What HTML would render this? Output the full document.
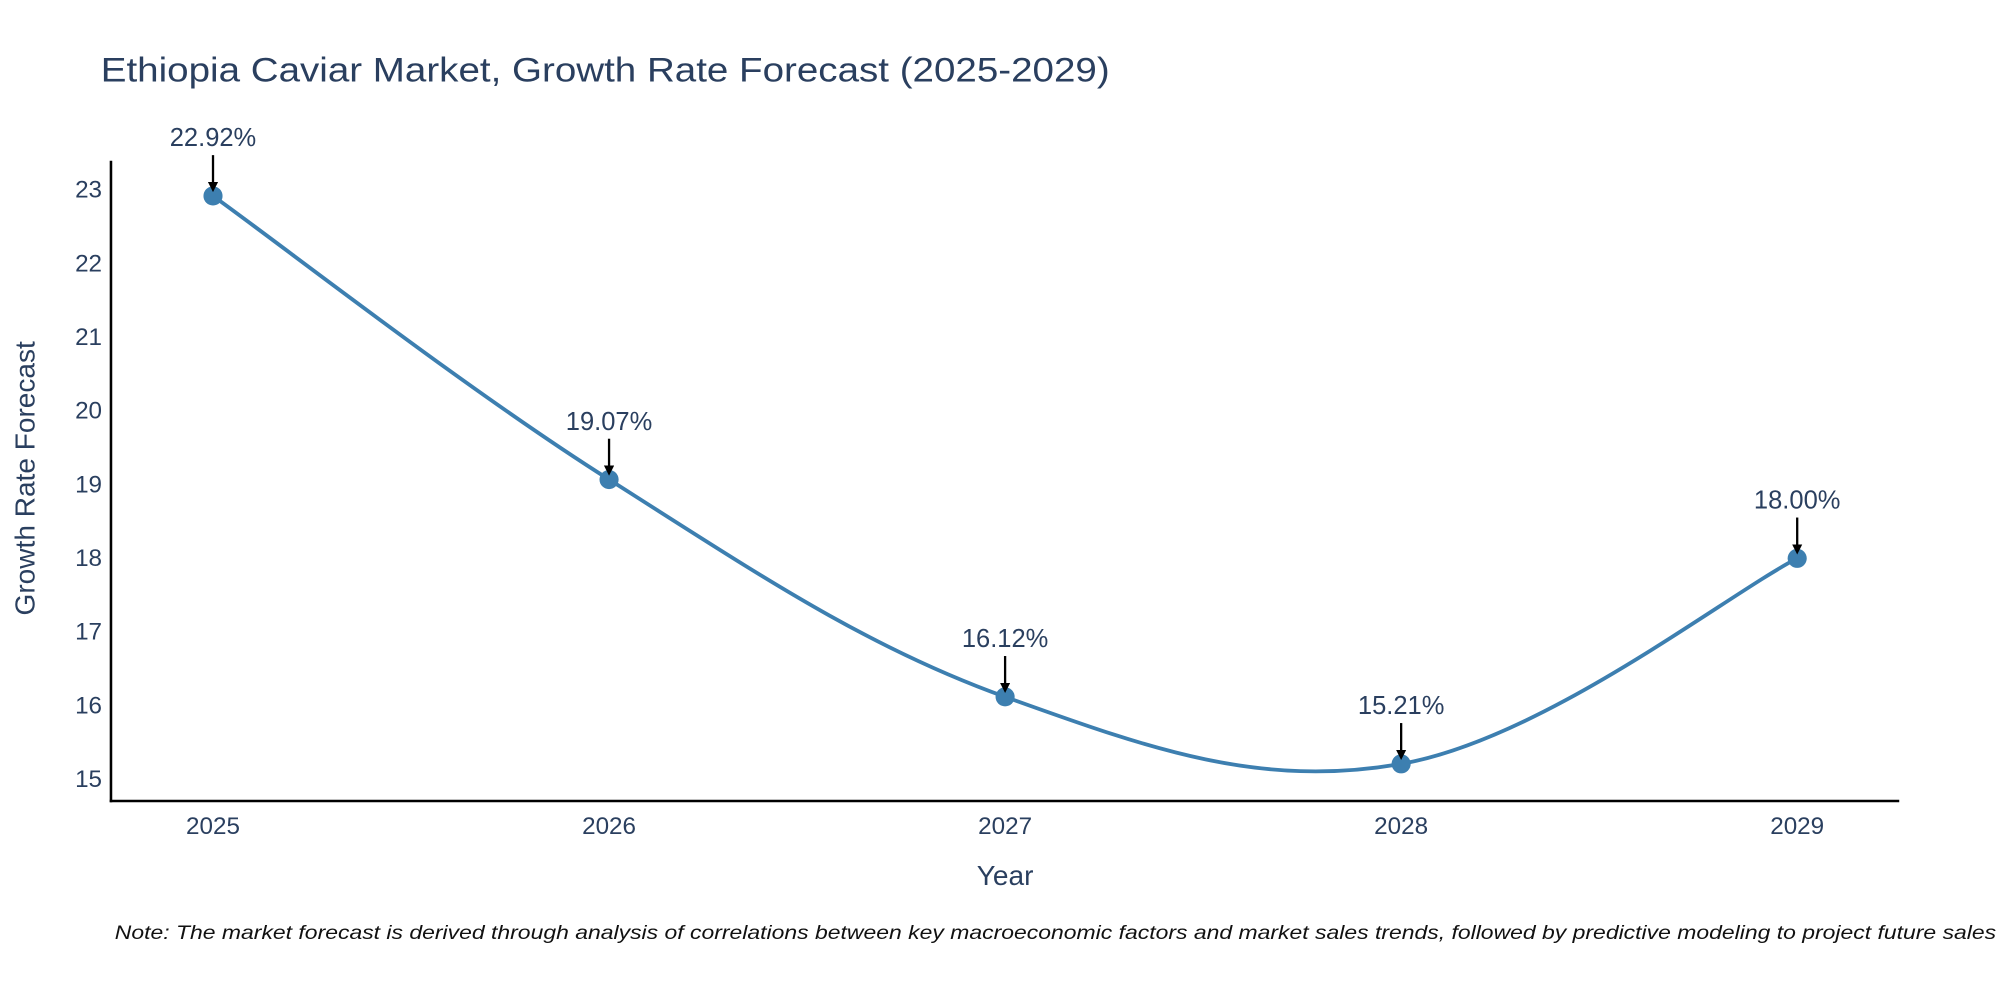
<!DOCTYPE html>
<html><head><meta charset="utf-8"><style>
html,body{margin:0;padding:0;background:#fff;}
svg{display:block;}
text{font-family:"Liberation Sans","DejaVu Sans",sans-serif;fill:#2a3f5f;}
</style></head><body>
<svg id="chart" width="2000" height="1000" viewBox="0 0 1568 784" preserveAspectRatio="none" xmlns="http://www.w3.org/2000/svg">
<rect width="1568" height="784" fill="#fff"/>
<text x="79" y="64" font-size="27" textLength="791" lengthAdjust="spacingAndGlyphs">Ethiopia Caviar Market, Growth Rate Forecast (2025-2029)</text>
<g id="yticks"></g>
<g id="xticks"></g>
<line x1="87" y1="126" x2="87" y2="629" stroke="#000" stroke-width="2"/>
<line x1="86" y1="628" x2="1489" y2="628" stroke="#000" stroke-width="2"/>
<text transform="translate(27,375) rotate(-90)" text-anchor="middle" font-size="22">Growth Rate Forecast</text>
<text x="788" y="694" text-anchor="middle" font-size="22">Year</text>
<g id="series"></g>
<g id="annots"></g>
<text x="90" y="736" font-size="15" font-style="italic" fill="#111" style="fill:#111" textLength="1475" lengthAdjust="spacingAndGlyphs">Note: The market forecast is derived through analysis of correlations between key macroeconomic factors and market sales trends, followed by predictive modeling to project future sales</text>
<defs><marker id="ah" markerWidth="8" markerHeight="8" refX="6" refY="4" orient="auto" markerUnits="userSpaceOnUse" viewBox="0 0 8 8"><path d="M0,0 L8,4 L0,8 z" fill="#000"/></marker></defs>
</svg>
<script>
const years = [2025, 2026, 2027, 2028, 2029];
const values = [22.92, 19.07, 16.12, 15.21, 18.00];
const labels = ["22.92%", "19.07%", "16.12%", "15.21%", "18.00%"];
const yTicks = [15, 16, 17, 18, 19, 20, 21, 22, 23];

const NS = "http://www.w3.org/2000/svg";
function xs(v){ return 167 + (v - 2025) * (1409 - 167) / 4; }
function ys(v){ return 611 - (v - 15) * (611 - 149) / 8; }
function mk(tag, attrs, parent){ const e = document.createElementNS(NS, tag); for (const k in attrs) e.setAttribute(k, attrs[k]); parent.appendChild(e); return e; }

const yg = document.getElementById('yticks');
yTicks.forEach(t => {
  const e = mk('text', {x: 80, y: ys(t) + 6, 'text-anchor': 'end', 'font-size': 19}, yg);
  
  
  e.textContent = t;
});
const xg = document.getElementById('xticks');
years.forEach(t => {
  const e = mk('text', {x: xs(t), y: 654, 'text-anchor': 'middle', 'font-size': 19}, xg);
  
  
  e.textContent = t;
});

const pts = years.map((y, i) => [xs(y), ys(values[i])]);
let d = `M${pts[0][0]},${pts[0][1]}`;
const s = 0.18;
for (let i = 0; i < pts.length - 1; i++) {
  const p0 = pts[Math.max(i - 1, 0)], p1 = pts[i], p2 = pts[i + 1], p3 = pts[Math.min(i + 2, pts.length - 1)];
  const c1 = [p1[0] + (p2[0] - p0[0]) * s, p1[1] + (p2[1] - p0[1]) * s];
  const c2 = [p2[0] - (p3[0] - p1[0]) * s, p2[1] - (p3[1] - p1[1]) * s];
  d += ` C${c1[0]},${c1[1]} ${c2[0]},${c2[1]} ${p2[0]},${p2[1]}`;
}
const sg = document.getElementById('series');
const line = mk('path', {d: d, fill: 'none', stroke: '#3d7fb0', 'stroke-width': 3}, sg);


pts.forEach(p => {
  const c = mk('circle', {cx: p[0], cy: p[1], r: 7.5, fill: '#3d7fb0'}, sg);
  
  
});

const ag = document.getElementById('annots');
pts.forEach((p, i) => {
  const a = mk('line', {x1: p[0], y1: p[1] - 32, x2: p[0], y2: p[1] - 5, stroke: '#000', 'stroke-width': 1.8, 'marker-end': 'url(#ah)'}, ag);
  
  
  const t = mk('text', {x: p[0], y: p[1] - 39, 'text-anchor': 'middle', 'font-size': 20}, ag);
  
  
  t.textContent = labels[i];
});
</script>
</body></html>
